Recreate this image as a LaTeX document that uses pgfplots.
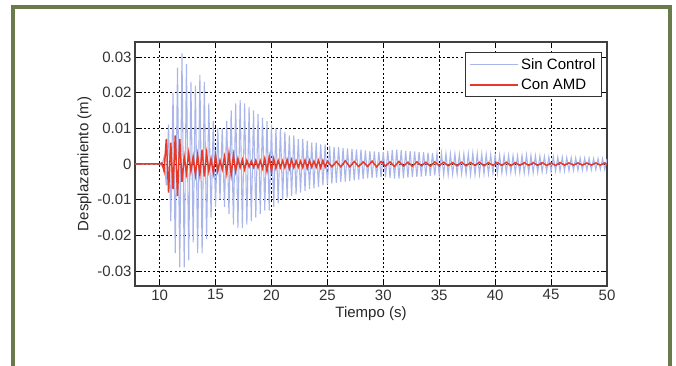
\documentclass[border=0pt]{standalone}
\usepackage{fontspec}
\setmainfont{Liberation Sans}
\usepackage{pgfplots}
\pgfplotsset{compat=1.18}
\definecolor{frameg}{RGB}{107,122,74}
\definecolor{sinc}{RGB}{170,182,234}
\definecolor{conamd}{RGB}{232,58,40}
\begin{document}
\begin{tikzpicture}[x=1pt,y=1pt]
\useasboundingbox (0,0) rectangle (676,366);
\begin{scope}
\clip (0,0) rectangle (676,366);
\draw[line width=4pt, frameg] (13,358.5) rectangle (670,-20);
\end{scope}
\begin{axis}[
  at={(135pt,80pt)}, anchor=south west,
  width=472pt, height=244pt, scale only axis,
  xmin=7.8, xmax=50, ymin=-0.0342, ymax=0.0342,
  xtick={10,15,20,25,30,35,40,45,50},
  ytick={-0.03,-0.02,-0.01,0,0.01,0.02,0.03},
  yticklabels={-0.03,-0.02,-0.01,0,0.01,0.02,0.03},
  scaled y ticks=false,
  /pgf/number format/assume math mode=true,
  tick label style={font=\fontsize{15}{17}\selectfont, text=black!80},
  label style={font=\fontsize{15}{17}\selectfont, text=black!85},
  xlabel={Tiempo (s)}, ylabel={Desplazamiento (m)},
  xlabel style={yshift=0pt},
  ylabel style={yshift=-1pt},
  tick align=inside, major tick length=4pt,
  tick style={black, line width=0.7pt},
  axis line style={black!75, line width=1.1pt},
  grid=major,
  major grid style={black, line width=0.8pt, dash pattern=on 2.2pt off 2.2pt},
  legend style={at={(0.989,0.959)}, anchor=north east, draw=black!80, line width=0.9pt,
    fill=white, font=\fontsize{15}{17}\selectfont, inner sep=4pt,
    row sep=4pt, cells={anchor=west}},
  legend image code/.code={\draw[#1] (0pt,0pt) -- (48pt,0pt);},
  legend cell align=left,
]
\addplot[sinc, line width=1.1pt] coordinates {
(7.8,0)(10,0)(10.2,-0.0005)(10.4,0.002)(10.6,-0.006)(10.8,0.011)(11,-0.016)(11.2,0.020)(11.4,-0.025)(11.6,0.027)(11.8,-0.029)(12,0.031)(12.2,-0.029)(12.4,0.028)(12.6,-0.027)(12.8,0.023)(13,-0.022)(13.2,0.022)(13.4,-0.025)(13.6,0.025)(13.8,-0.025)(14,0.023)(14.2,-0.021)(14.4,0.017)(14.6,-0.015)(14.8,0.012)(15,-0.012)(15.2,0.010)(15.4,-0.010)(15.6,0.010)(15.8,-0.012)(16,0.012)(16.2,-0.014)(16.4,0.015)(16.6,-0.017)(16.8,0.017)(17,-0.018)(17.2,0.018)(17.4,-0.018)(17.6,0.017)(17.8,-0.017)(18,0.016)(18.2,-0.016)(18.4,0.015)(18.6,-0.015)(18.8,0.014)(19,-0.014)(19.2,0.013)(19.4,-0.013)(19.6,0.012)(19.8,-0.013)(20,0.011)(20.2,-0.012)(20.4,0.010)(20.6,-0.011)(20.8,0.010)(21,-0.010)(21.2,0.009)(21.4,-0.0095)(21.6,0.008)(21.8,-0.009)(22,0.008)(22.2,-0.0085)(22.4,0.007)(22.6,-0.008)(22.8,0.007)(23,-0.0075)(23.2,0.0065)(23.4,-0.007)(23.6,0.006)(23.8,-0.0068)(24,0.006)(24.2,-0.0065)(24.4,0.0055)(24.6,-0.006)(24.8,0.0055)(25,-0.0058)(25.2,0.005)(25.4,-0.0055)(25.6,0.0048)(25.8,-0.0053)(26,0.0047)(26.2,-0.005)(26.4,0.0045)(26.6,-0.0049)(26.8,0.0044)(27,-0.0047)(27.2,0.0042)(27.4,-0.0046)(27.6,0.0041)(27.8,-0.0044)(28,0.004)(28.2,-0.0042)(28.4,0.0038)(28.6,-0.004)(28.8,0.0036)(29,-0.0039)(29.2,0.0035)(29.4,-0.0038)(29.6,0.0034)(29.8,-0.0037)(30,0.0034)(30.2,-0.0037)(30.4,0.0037)(30.6,-0.0039)(30.8,0.0039)(31,-0.0041)(31.2,0.004)(31.4,-0.0041)(31.6,0.0039)(31.8,-0.004)(32,0.0037)(32.2,-0.0038)(32.4,0.0036)(32.6,-0.0037)(32.8,0.0035)(33,-0.0036)(33.2,0.0034)(33.4,-0.0035)(33.6,0.0033)(33.8,-0.0034)(34,0.0032)(34.2,-0.0033)(34.4,0.0031)(34.6,-0.0032)(34.8,0.003)(35,-0.0031)(35.2,0.003)(35.4,-0.003)(35.6,0.0029)(35.8,-0.003)(36,0.0028)(36.2,-0.0029)(36.4,0.0028)(36.6,-0.0028)(36.8,0.0027)(37,-0.0028)(37.2,0.0028)(37.4,-0.0029)(37.6,0.0029)(37.8,-0.003)(38,0.003)(38.2,-0.003)(38.4,0.0029)(38.6,-0.0029)(38.8,0.0028)(39,-0.0028)(39.2,0.0027)(39.4,-0.0027)(39.6,0.0026)(39.8,-0.0026)(40,0.0025)(40.2,-0.0026)(40.4,0.0025)(40.6,-0.0025)(40.8,0.0024)(41,-0.0025)(41.2,0.0024)(41.4,-0.0024)(41.6,0.0023)(41.8,-0.0024)(42,0.0023)(42.2,-0.0024)(42.4,0.0024)(42.6,-0.0025)(42.8,0.0025)(43,-0.0025)(43.2,0.0024)(43.4,-0.0024)(43.6,0.0023)(43.8,-0.0023)(44,0.0022)(44.2,-0.0022)(44.4,0.0021)(44.6,-0.0021)(44.8,0.002)(45,-0.0021)(45.2,0.002)(45.4,-0.002)(45.6,0.0019)(45.8,-0.002)(46,0.0019)(46.2,-0.0019)(46.4,0.0018)(46.6,-0.0019)(46.8,0.0018)(47,-0.0018)(47.2,0.0017)(47.4,-0.0018)(47.6,0.0017)(47.8,-0.0017)(48,0.0016)(48.2,-0.0017)(48.4,0.0016)(48.6,-0.0016)(48.8,0.0015)(49,-0.0016)(49.2,0.0015)(49.4,-0.0015)(49.6,0.0015)(49.8,-0.0015)(50,0.0014)
};
\addlegendentry{Sin Control}
\addplot[conamd, line width=1.5pt] coordinates {
(7.8,0)(10,0)(10.2,0.0003)(10.4,-0.002)(10.6,0.007)(10.8,-0.008)(11,0.006)(11.2,-0.007)(11.4,0.008)(11.6,-0.009)(11.8,0.007)(12,-0.005)(12.2,0.002)(12.4,-0.0025)(12.6,0.003)(12.8,-0.002)(13,0.002)(13.2,-0.003)(13.4,0.0025)(13.6,-0.003)(13.8,0.004)(14,-0.0035)(14.2,0.003)(14.4,-0.002)(14.6,0.0015)(14.8,-0.0025)(15,0.0025)(15.2,-0.002)(15.4,0.001)(15.6,-0.0015)(15.8,0.002)(16,-0.0025)(16.2,0.003)(16.4,-0.003)(16.6,0.0025)(16.8,-0.002)(17,0.0015)(17.2,-0.001)(17.4,0.0012)(17.6,-0.0015)(17.8,0.001)(18,-0.0008)(18.2,0.0008)(18.4,-0.0009)(18.6,0.001)(18.8,-0.001)(19,0.0009)(19.2,-0.0012)(19.4,0.0015)(19.6,-0.002)(19.8,0.002)(20,-0.002)(20.2,0.0015)(20.4,-0.0012)(20.6,0.001)(20.8,-0.001)(21,0.0009)(21.2,-0.001)(21.4,0.0012)(21.6,-0.0013)(21.8,0.0012)(22,-0.001)(22.2,0.0009)(22.4,-0.0009)(22.6,0.0008)(22.8,-0.001)(23,0.0011)(23.2,-0.0012)(23.4,0.001)(23.6,-0.0009)(23.8,0.0008)(24,-0.0009)(24.2,0.001)(24.4,-0.0011)(24.6,0.001)(24.8,-0.0009)(25,0.0008)(25.4,-0.0008)(25.8,0.0007)(26.2,-0.0008)(26.6,0.0009)(27,-0.0008)(27.4,0.0007)(27.8,-0.0007)(28.2,0.0006)(28.6,-0.0007)(29,0.0008)(29.4,-0.0008)(29.8,0.0007)(30.2,-0.0006)(30.6,0.0006)(31,-0.0007)(31.4,0.0007)(31.8,-0.0006)(32.2,0.0005)(32.6,-0.0006)(33,0.0006)(33.4,-0.0005)(33.8,0.0005)(34.2,-0.0006)(34.6,0.0006)(35,-0.0005)(35.4,0.0005)(35.8,-0.0005)(36.2,0.0004)(36.6,-0.0005)(37,0.0005)(37.4,-0.0005)(37.8,0.0004)(38.2,-0.0004)(38.6,0.0005)(39,-0.0005)(39.4,0.0004)(39.8,-0.0004)(40.2,0.0004)(40.6,-0.0004)(41,0.0005)(41.4,-0.0005)(41.8,0.0004)(42.2,-0.0004)(42.6,0.0004)(43,-0.0004)(43.4,0.0004)(43.8,-0.0004)(44.2,0.0004)(44.6,-0.0004)(45,0.0003)(45.4,-0.0004)(45.8,0.0004)(46.2,-0.0003)(46.6,0.0003)(47,-0.0003)(47.4,0.0003)(47.8,-0.0003)(48.2,0.0003)(48.6,-0.0003)(49,0.0003)(49.4,-0.0003)(49.8,0.0003)(50,0)
};
\addlegendentry{Con AMD}
\end{axis}
\end{tikzpicture}
\end{document}
